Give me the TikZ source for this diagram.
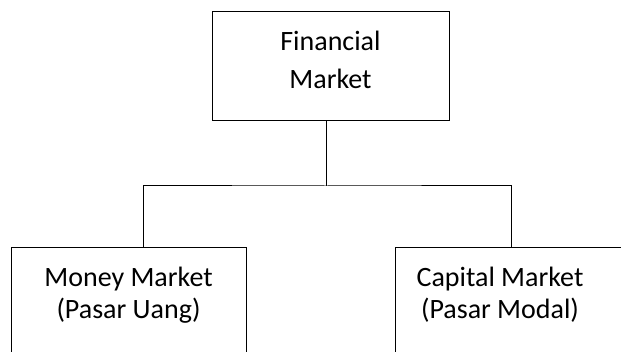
\documentclass[tikz,border=0pt]{standalone}
\usepackage{fontspec}
\setmainfont{Carlito}
\begin{document}
\begin{tikzpicture}[x=1pt,y=-1pt,
  box/.style={draw=black,line width=1pt,fill=white},
  txt/.style={anchor=base,inner sep=0pt,font=\fontsize{28}{33}\selectfont},
  wire/.style={draw=black,line width=1pt}]
\useasboundingbox (0,0) rectangle (621,352);
\clip (0,0) rectangle (621,352);
% boxes
\draw[box] (212.5,12) rectangle (449,120.5);
\draw[box] (11,248) rectangle (246.5,360);
\draw[box] (395,248) rectangle (630,360);
\coordinate (top) at (326,120.5);
\coordinate (mid) at (326,186);
\coordinate (lft) at (143,248);
\coordinate (rgt) at (511,248);
\draw[wire] (top) -- (mid);
\draw[wire] (lft) |- (mid) -| (rgt);
% texts
\node[txt] (f1) at (330.5,51) {Financial};
\node[txt] (f2) at (330.5,89) {Market};
\node[txt] (m1) at (128.5,286.5) {Money Market};
\node[txt] (m2) at (128.5,319) {(Pasar Uang)};
\node[txt] (c1) at (500,286.5) {Capital Market};
\node[txt] (c2) at (500,319) {(Pasar Modal)};
\end{tikzpicture}
\end{document}
